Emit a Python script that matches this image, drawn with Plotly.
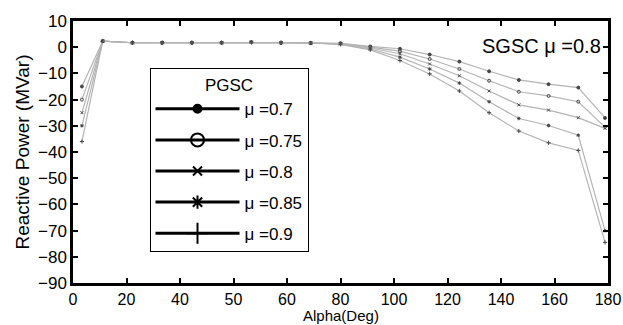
import plotly.graph_objects as go

# ---- data ----
alpha = [3, 10, 20, 30, 40, 50, 60, 70, 80, 90, 100, 110, 120, 130, 140, 150, 160, 170, 179]
q_07 = [-15, 2.3, 1.7, 1.7, 1.7, 1.7, 1.9, 1.7, 1.6, 1.5, 0.3, -0.6, -2.8, -5.5, -9.2, -12.5, -14.1, -15.4, -27]
q_075 = [-20, 2.3, 1.7, 1.7, 1.7, 1.7, 1.9, 1.7, 1.6, 1.4, 0.0, -1.5, -4.5, -8.3, -12.8, -17.0, -18.6, -20.8, -30.5]
q_08 = [-25, 2.3, 1.7, 1.7, 1.7, 1.7, 1.9, 1.7, 1.6, 1.3, -0.3, -2.5, -6.4, -10.9, -16.7, -22.0, -24.0, -26.9, -31]
q_085 = [-30, 2.3, 1.7, 1.7, 1.7, 1.7, 1.9, 1.7, 1.6, 1.2, -0.7, -3.8, -8.3, -13.7, -20.8, -27.2, -29.9, -33.6, -70]
q_09 = [-36, 2.3, 1.7, 1.7, 1.7, 1.7, 1.9, 1.7, 1.6, 1.1, -1.0, -5.1, -10.2, -16.7, -25.0, -32.0, -36.5, -39.4, -74.5]
series_names = ["μ =0.7", "μ =0.75", "μ =0.8", "μ =0.85", "μ =0.9"]
series_vals = [q_07, q_075, q_08, q_085, q_09]

x_tickvals = [0, 18, 36, 54, 72, 90, 108, 126, 144, 162, 180]
x_ticktext = ["0", "20", "40", "50", "60", "80", "100", "120", "140", "160", "180"]
y_tickvals = [10, 0, -10, -20, -30, -40, -50, -60, -70, -80, -90]

symbols = ["circle", "circle-open", "x-thin-open", "asterisk-open", "cross-thin-open"]
leg_sizes = [8, 13, 9, 11, 15]

FONT = "Liberation Sans, Arial, sans-serif"

fig = go.Figure()
for name, vals, sym in zip(series_names, series_vals, symbols):
    fig.add_trace(go.Scatter(
        x=alpha, y=vals, mode="lines+markers", showlegend=False,
        line=dict(color="#b4b4b4", width=1.2),
        marker=dict(symbol=sym, size=3, color="#454545", line=dict(color="#454545", width=1)),
    ))
for i, (name, sym) in enumerate(zip(series_names, symbols)):
    fig.add_trace(go.Scatter(
        x=[None], y=[None], mode="lines+markers", name=name, legendgroup=f"g{i}",
        line=dict(color="black", width=3),
        marker=dict(symbol=sym, size=leg_sizes[i], color="black", line=dict(color="black", width=2)),
    ))

fig.add_annotation(text="SGSC μ =0.8", xref="paper", yref="paper", x=0.99, y=0.905,
                   xanchor="right", yanchor="middle", showarrow=False,
                   font=dict(family=FONT, size=20, color="black"))
fig.add_annotation(text="Alpha(Deg)", xref="paper", yref="paper", x=0.5, y=-0.124,
                   xanchor="center", yanchor="middle", showarrow=False,
                   font=dict(family=FONT, size=15, color="black"))

axis_common = dict(showline=True, linecolor="black", linewidth=2.5, mirror="ticks",
                   ticks="inside", ticklen=5, tickwidth=1.5, tickcolor="black",
                   showgrid=False, zeroline=False)

fig.update_layout(
    width=623, height=325,
    margin=dict(l=73, r=14, t=16, b=42),
    paper_bgcolor="white", plot_bgcolor="white",
    font=dict(family=FONT, size=17, color="black"),
    xaxis=dict(range=[0, 180], tickmode="array", tickvals=x_tickvals, ticktext=x_ticktext,
               automargin=False, tickfont=dict(family=FONT, size=16, color="black"),
               **axis_common),
    yaxis=dict(range=[-90, 10], tickmode="array", tickvals=y_tickvals,
               tickfont=dict(family=FONT, size=17, color="black"),
               title=dict(text="Reactive Power (MVar)", font=dict(family=FONT, size=19), standoff=4),
               **axis_common),
    legend=dict(x=0.143, y=0.82, xanchor="left", yanchor="top",
                bgcolor="white", bordercolor="black", borderwidth=1,
                font=dict(family=FONT, size=17, color="black"),
                title=dict(text="PGSC", side="top center", font=dict(family=FONT, size=17)),
                tracegroupgap=6, itemwidth=84),
)

fig.write_html("out.html")
